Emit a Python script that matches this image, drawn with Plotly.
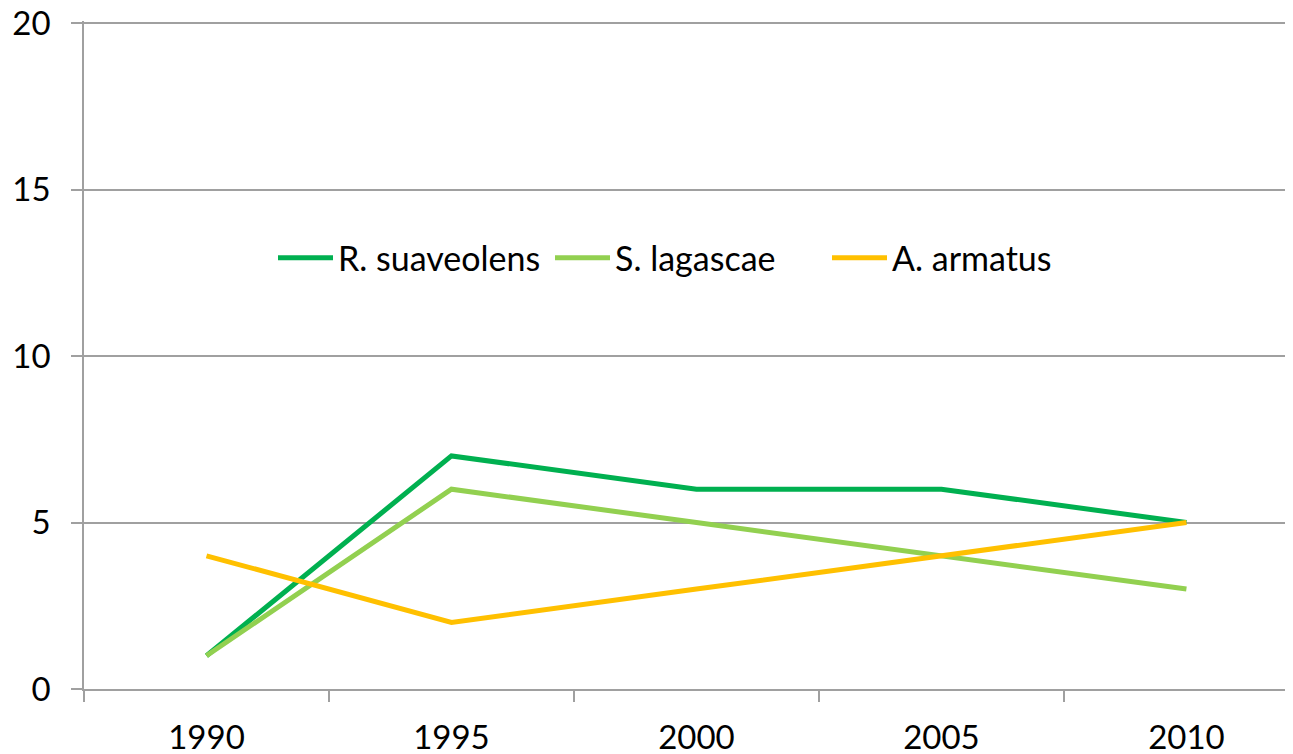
import plotly.graph_objects as go

years = ["1990", "1995", "2000", "2005", "2010"]
r_suaveolens = [1, 7, 6, 6, 5]
s_lagascae = [1, 6, 5, 4, 3]
a_armatus = [4, 2, 3, 4, 5]

series = [
    ("R. suaveolens", r_suaveolens, "#00B050"),
    ("S. lagascae", s_lagascae, "#92D050"),
    ("A. armatus", a_armatus, "#FFC000"),
]

idx = list(range(len(years)))
fig = go.Figure()
for name, vals, color in series:
    fig.add_trace(go.Scatter(x=idx, y=vals, mode="lines", name=name,
                             line=dict(color=color, width=5)))

font = "Lato, 'Open Sans', sans-serif"
grid = "#A0A0A0"
xr = [-0.5, 4.435]
fig.update_layout(
    width=1285, height=746,
    margin=dict(l=76, r=0, t=13, b=65),
    paper_bgcolor="white", plot_bgcolor="white",
    font=dict(family=font, size=33, color="black"),
    showlegend=True,
    legend=dict(orientation="h", x=0.50, xanchor="center", y=0.645, yanchor="middle",
                font=dict(size=34), bgcolor="rgba(0,0,0,0)", itemwidth=55,
                entrywidth=207, entrywidthmode="pixels"),
    xaxis=dict(range=xr, tickvals=[i - 0.5 for i in idx], ticktext=[""] * len(idx),
               ticks="outside", ticklen=11, tickcolor=grid, tickwidth=1.5, automargin=False,
               showline=True, linecolor=grid, linewidth=1.5, showgrid=False, zeroline=False),
    xaxis2=dict(range=xr, overlaying="x", side="bottom", tickvals=idx, ticktext=years,
                ticks="", showline=False, showgrid=False, zeroline=False, automargin=False,
                tickfont=dict(size=33), ticklabelstandoff=26, anchor="y",
                ticklabeloverflow="allow"),
    yaxis=dict(range=[0, 20.06], tickvals=[0, 5, 10, 15, 20], ticks="outside", ticklen=11,
               tickcolor=grid, tickwidth=1.5, showline=True, linecolor=grid, linewidth=1.5,
               showgrid=True, gridcolor=grid, gridwidth=1.5, zeroline=False, automargin=False,
               ticklabelstandoff=14, ticklabeloverflow="allow"),
)
fig.add_trace(go.Scatter(x=idx, y=[None] * len(idx), xaxis="x2", showlegend=False, hoverinfo="skip"))
fig.write_html("out.html")
